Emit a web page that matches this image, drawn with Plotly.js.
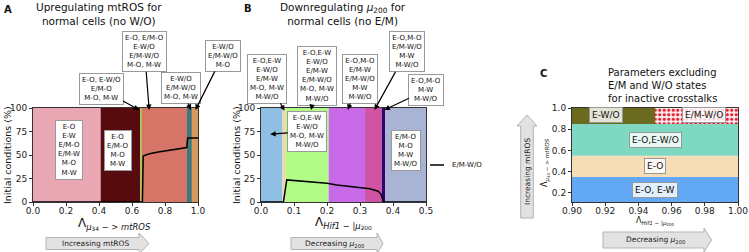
<!DOCTYPE html>
<html><head><meta charset="utf-8">
<script src="https://cdn.plot.ly/plotly-3.0.1.min.js"></script>
<style>html,body{margin:0;padding:0;background:#fff}#chart{width:749px;height:252px}</style>
</head><body><div id="chart"></div>
<script>
// ---------- Panel A data ----------
const bandsA_edges = [0, 0.41, 0.65, 0.66, 0.933, 0.963, 1.0];
const bandsA_colors = ['#e8a7b2', '#570b0e', '#a5c23c', '#d67467', '#3f7878', '#d8995b'];
const lineA_x = [0, 0.663, 0.668, 0.7, 0.75, 0.81, 0.87, 0.925, 0.932, 0.937, 0.97, 1.0];
const lineA_y = [0, 0, 49, 51, 53, 54.5, 56, 57.5, 58, 68, 68, 68];
const xTicksA = [0, 0.2, 0.4, 0.6, 0.8, 1.0];
const yTicksAB = [0, 25, 50, 75, 100];

// ---------- Panel B data ----------
const bandsB_edges = [0, 0.065, 0.075, 0.205, 0.315, 0.366, 0.376, 0.5];
const bandsB_colors = ['#8fbfe3', '#efd6a9', '#b1fb86', '#c869e8', '#d153a4', '#33006f', '#a9b4d4'];
const lineB_x = [0, 0.068, 0.078, 0.1, 0.15, 0.2, 0.23, 0.28, 0.33, 0.355, 0.363, 0.372, 0.5];
const lineB_y = [0, 0, 23.5, 23, 21.5, 20, 18, 16, 14, 11.5, 8.5, 0, 0];
const xTicksB = [0, 0.1, 0.2, 0.3, 0.4, 0.5];

// ---------- Panel C data ----------
const cellsC_xlo = [0.90, 0.90, 0.90, 0.90, 0.95];
const cellsC_xhi = [1.00, 1.00, 1.00, 0.95, 1.00];
const cellsC_ylo = [0.113, 0.35, 0.55, 0.85, 0.85];
const cellsC_yhi = [0.35, 0.55, 0.85, 1.00, 1.00];
const cellsC_colors = ['#62a8f5', '#f5deb5', '#7fd8c2', '#6b6b1f', '#fcebee'];
const cellsC_dotted = [false, false, false, false, true];
const cellsC_labels = ['E-O, E-W', 'E-O', 'E-O,E-W/O', 'E-W/O', 'E/M-W/O'];
const xTicksC = [0.90, 0.92, 0.94, 0.96, 0.98, 1.00];
const yTicksC = [0.2, 0.4, 0.6, 0.8, 1.0];

// ---------- Annotation texts ----------
const boxA_texts = ['E-O<br>E-W<br>E/M-O<br>E/M-W<br>M-O<br>M-W', 'E-O<br>E/M-O<br>M-O<br>M-W'];
const arrowA_texts = ['E-O, E-W/O<br>E/M-O<br>M-O, M-W',
  'E-O, E/M-O<br>E-W/O<br>E/M-W/O<br>M-O, M-W',
  'E-W/O<br>E/M-W/O<br>M-O, M-W',
  'E-W/O<br>E/M-W/O<br>M-O'];
const arrowB_texts = ['E-O,E-W<br>E-W/O<br>E/M-W<br>M-O, M-W<br>M-W/O',
  'E-O,E-W<br>E-W/O<br>E/M-W<br>E/M-W/O<br>M-O, M-W<br>M-W/O',
  'E-O,M-O<br>E/M-W<br>E/M-W/O<br>M-W<br>M-W/O',
  'E-O,M-O<br>E/M-W/O<br>M-W<br>M-W/O',
  'E-O,M-O<br>M-W<br>M-W/O',
  'E-O,E-W<br>E-W/O<br>M-O, M-W<br>M-W/O'];
const boxB_texts = ['E/M-O<br>M-O<br>M-W<br>M-W/O'];
const lineName = 'E/M-W/O';

// ---------- helpers ----------
const W = 749, H = 252;
const px = x => x / W;
const py = y => 1 - y / H;
const FONT = 'DejaVu Sans, sans-serif';

function bandTrace(edges, colors, xa, ya) {
  const c = [], w = [], y = [];
  for (let i = 0; i < edges.length - 1; i++) {
    c.push((edges[i] + edges[i + 1]) / 2);
    w.push(edges[i + 1] - edges[i]);
    y.push(100);
  }
  return {type: 'bar', x: c, y: y, width: w, xaxis: xa, yaxis: ya,
    marker: {color: colors, line: {width: 0}}, hoverinfo: 'skip', showlegend: false};
}
function cellTrace(keep, extraMarker) {
  const idx = cellsC_dotted.map((d, i) => i).filter(i => keep(cellsC_dotted[i]));
  const cols = idx.map(i => cellsC_colors[i]);
  return {type: 'bar', orientation: 'h', xaxis: 'x3', yaxis: 'y3',
    y: idx.map(i => (cellsC_ylo[i] + cellsC_yhi[i]) / 2),
    width: idx.map(i => cellsC_yhi[i] - cellsC_ylo[i]),
    base: idx.map(i => cellsC_xlo[i]),
    x: idx.map(i => cellsC_xhi[i] - cellsC_xlo[i]),
    marker: Object.assign({color: extraMarker ? cols[0] : cols, line: {width: 0}}, extraMarker || {}),
    hoverinfo: 'skip', showlegend: false};
}

const traces = [
  bandTrace(bandsA_edges, bandsA_colors, 'x', 'y'),
  {type: 'scatter', mode: 'lines', x: lineA_x, y: lineA_y, xaxis: 'x', yaxis: 'y', name: lineName,
    line: {color: '#000', width: 1.5}, showlegend: false},
  bandTrace(bandsB_edges, bandsB_colors, 'x2', 'y2'),
  {type: 'scatter', mode: 'lines', x: lineB_x, y: lineB_y, xaxis: 'x2', yaxis: 'y2', name: lineName,
    line: {color: '#000', width: 1.5}, showlegend: false},
  cellTrace(d => !d),
  cellTrace(d => d, {pattern: {shape: '.', fillmode: 'replace', fgcolor: '#e41e2e', bgcolor: '#fcebee',
    fgopacity: 1, size: 4.5, solidity: 0.4}})
];

const axBase = {showgrid: false, zeroline: false, showline: true, mirror: true, linecolor: '#333', linewidth: 1,
  ticks: 'outside', ticklen: 3, tickcolor: '#333', tickfont: {size: 9, color: '#222', family: FONT}, fixedrange: true};
const xBase = Object.assign({}, axBase, {ticklabelstandoff: -3});
const yDom = [py(202), py(108)];

const layout = {
  width: W, height: H, margin: {l: 0, r: 0, t: 0, b: 0},
  paper_bgcolor: '#fff', plot_bgcolor: '#fff', showlegend: false, barmode: 'overlay',
  font: {family: FONT, color: '#111'},
  xaxis: Object.assign({}, xBase, {domain: [px(33), px(198)], range: [0, 1], tickvals: xTicksA, tickformat: '.1f', anchor: 'y'}),
  yaxis: Object.assign({}, axBase, {domain: yDom, range: [0, 100], tickvals: yTicksAB, anchor: 'x'}),
  xaxis2: Object.assign({}, xBase, {domain: [px(261), px(426)], range: [0, 0.5], tickvals: xTicksB, tickformat: '.1f', anchor: 'y2'}),
  yaxis2: Object.assign({}, axBase, {domain: yDom, range: [0, 100], tickvals: yTicksAB, anchor: 'x2'}),
  xaxis3: Object.assign({}, xBase, {domain: [px(572), px(738)], range: [0.9, 1.0], tickvals: xTicksC, tickformat: '.2f', anchor: 'y3'}),
  yaxis3: Object.assign({}, axBase, {domain: yDom, range: [0.113, 1.0], tickvals: yTicksC, tickformat: '.1f', anchor: 'x3'}),
  annotations: [], shapes: []
};
const A = layout.annotations, S = layout.shapes;

function paperText(x, y, text, opts) {
  A.push(Object.assign({xref: 'paper', yref: 'paper', x: px(x), y: py(y), text: text, showarrow: false,
    xanchor: 'center', yanchor: 'middle', font: {size: 10, family: FONT, color: '#111'}}, opts || {}));
}
function boxNote(xr, yr, x, y, text, size, arrow, bg) {
  const a = {xref: xr, yref: yr, x: x, y: y, text: text, font: {size: size, family: FONT, color: '#111'},
    bgcolor: bg || '#fff', bordercolor: '#999', borderwidth: 1, borderpad: 2, align: 'center'};
  if (arrow) {
    Object.assign(a, {showarrow: true, ax: arrow[0], ay: arrow[1], arrowhead: 2, arrowsize: 0.9,
      arrowwidth: 1.2, arrowcolor: '#000', standoff: 0, startstandoff: 0});
  } else a.showarrow = false;
  A.push(a);
}

// Panel titles
paperText(8, 10, '<b>A</b>', {font: {size: 10, family: FONT, color: '#111'}});
paperText(99, 14, 'Upregulating mtROS for<br>normal cells (no W/O)', {font: {size: 10.5, family: FONT, color: '#111'}});
paperText(248, 8, '<b>B</b>', {font: {size: 10, family: FONT, color: '#111'}});
paperText(343, 13.5, 'Downregulating <i>μ</i><sub>200</sub> for<br>normal cells (no E/M)', {font: {size: 10.5, family: FONT, color: '#111'}});
paperText(543, 73, '<b>C</b>', {font: {size: 10, family: FONT, color: '#111'}});
paperText(606, 85, 'Parameters excluding<br>E/M and W/O states<br>for inactive crosstalks', {xanchor: 'left', align: 'left', font: {size: 10, family: FONT, color: '#111'}});

// Axis titles
paperText(7, 155, 'Initial conditions (%)', {textangle: -90, font: {size: 9.5, family: FONT, color: '#111'}});
paperText(236, 155, 'Initial conditions (%)', {textangle: -90, font: {size: 9.5, family: FONT, color: '#111'}});
paperText(114, 224, 'Λ<sub><i>μ</i><sub>34</sub> − > <i>mtROS</i></sub>', {font: {size: 12, family: FONT, color: '#111'}});
paperText(343, 223, 'Λ<sub><i>Hif1</i> − |<i>μ</i><sub>200</sub></sub>', {font: {size: 12, family: FONT, color: '#111'}});
paperText(655, 221, 'Λ<sub><i>Hif1</i> − |<i>μ</i><sub>200</sub></sub>', {font: {size: 8, family: FONT, color: '#111'}});
paperText(545, 163, 'Λ<sub><i>μ</i><sub>34</sub> − > <i>mtROS</i></sub>', {textangle: -90, font: {size: 8, family: FONT, color: '#111'}});

// Panel A notes
boxNote('x', 'y', 0.22, 55, boxA_texts[0], 7);
boxNote('x', 'y', 0.515, 55, boxA_texts[1], 7);
boxNote('x', 'y', 0.643, 98, arrowA_texts[0], 7, [-38, -21]);
boxNote('x', 'y', 0.704, 98, arrowA_texts[1], 7, [-4.5, -58]);
boxNote('x', 'y', 0.957, 98, arrowA_texts[2], 7, [-10, -22]);
boxNote('x', 'y', 0.985, 98, arrowA_texts[3], 7, [27, -54]);

// Panel B notes
boxNote('x2', 'y2', 0.071, 97, arrowB_texts[0], 7, [-17, -32]);
boxNote('x2', 'y2', 0.152, 98, arrowB_texts[1], 7, [6, -34]);
boxNote('x2', 'y2', 0.263, 98, arrowB_texts[2], 7, [12, -31]);
boxNote('x2', 'y2', 0.344, 98, arrowB_texts[3], 7, [32, -58]);
boxNote('x2', 'y2', 0.374, 98, arrowB_texts[4], 7, [42, -20]);
boxNote('x2', 'y2', 0.028, 72, arrowB_texts[5], 7, [37, -3]);
boxNote('x2', 'y2', 0.438, 55, boxB_texts[0], 7);

// Panel C labels
const cLabelPos = [[0.95, 0.225], [0.95, 0.455], [0.95, 0.70], [0.9205, 0.936], [0.9795, 0.936]];
cellsC_labels.forEach((t, i) => boxNote('x3', 'y3', cLabelPos[i][0], cLabelPos[i][1], t, 9, null, 'rgba(255,255,255,0.82)'));

// Manual legend
S.push({type: 'line', xref: 'paper', yref: 'paper', x0: px(430), x1: px(444), y0: py(165), y1: py(165), line: {color: '#000', width: 1.5}});
paperText(450, 165, lineName, {xanchor: 'left', font: {size: 7, family: FONT, color: '#111'}});

// Block arrows
function hArrow(x0, x1, xt, yc, bh, hh) {
  const p = [[x0, yc - bh], [x1, yc - bh], [x1, yc - hh], [xt, yc], [x1, yc + hh], [x1, yc + bh], [x0, yc + bh]];
  return 'M' + p.map(q => px(q[0]) + ',' + py(q[1])).join(' L') + ' Z';
}
function vArrowUp(xc, yt, yb, ybot, bw, hw) {
  const p = [[xc - bw, ybot], [xc - bw, yb], [xc - hw, yb], [xc, yt], [xc + hw, yb], [xc + bw, yb], [xc + bw, ybot]];
  return 'M' + p.map(q => px(q[0]) + ',' + py(q[1])).join(' L') + ' Z';
}
const arrowStyle = {type: 'path', xref: 'paper', yref: 'paper', fillcolor: '#e2e2e2', line: {color: '#b3b3b3', width: 1}};
S.push(Object.assign({path: hArrow(46, 139, 149, 243.5, 6, 10.5)}, arrowStyle));
S.push(Object.assign({path: hArrow(291, 377, 383, 243.5, 6, 10.5)}, arrowStyle));
S.push(Object.assign({path: hArrow(603, 704, 711.5, 240, 8, 12)}, arrowStyle));
S.push(Object.assign({path: vArrowUp(527, 115, 126, 218, 6.3, 10)}, arrowStyle));
paperText(95, 243.5, 'Increasing mtROS', {font: {size: 7.5, family: FONT, color: '#222'}});
paperText(334, 244, 'Decreasing <i>μ</i><sub>200</sub>', {font: {size: 7.5, family: FONT, color: '#222'}});
paperText(655, 240, 'Decreasing <i>μ</i><sub>200</sub>', {font: {size: 7.5, family: FONT, color: '#222'}});
paperText(527, 172, 'Increasing mtROS', {textangle: -90, font: {size: 7.5, family: FONT, color: '#222'}});

Plotly.newPlot('chart', traces, layout, {staticPlot: true, displayModeBar: false});
</script>
</body></html>
